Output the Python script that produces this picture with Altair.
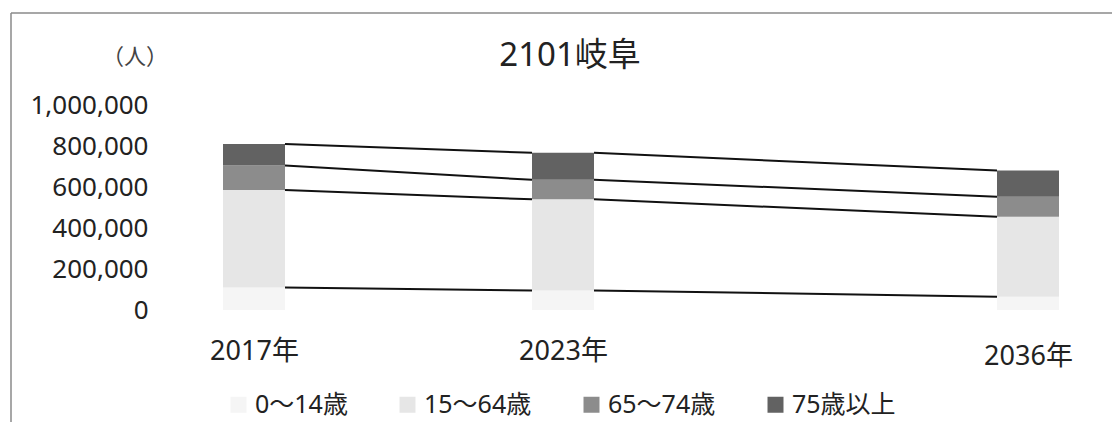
import altair as alt
import pandas as pd

# ---- data ----
years = [2017, 2023, 2036]
groups = ["0～14歳", "15～64歳", "65～74歳", "75歳以上"]
pop_0_14 = [110000, 95000, 65000]
pop_15_64 = [475000, 445000, 390000]
pop_65_74 = [120000, 95000, 98000]
pop_75_plus = [105000, 132000, 127000]
y_ticks = [0, 200000, 400000, 600000, 800000, 1000000]
colors = ["#f5f5f5", "#e6e6e6", "#8c8c8c", "#626262"]

FONT = "Noto Sans, Noto Sans CJK JP"

series = [pop_0_14, pop_15_64, pop_65_74, pop_75_plus]

# stacked segments
rows = []
for i, yr in enumerate(years):
    base = 0
    for g, vals in zip(groups, series):
        rows.append({"year": yr, "group": g, "v0": base, "v1": base + vals[i]})
        base += vals[i]
bars_df = pd.DataFrame(rows)

# series lines between consecutive bars (segment boundaries)
lines = []
for i in range(len(years) - 1):
    c0 = 0
    c1 = 0
    for vals in series:
        c0 += vals[i]
        c1 += vals[i + 1]
        lines.append({"year": years[i], "year2": years[i + 1], "v0": c0, "v1": c1})
lines_df = pd.DataFrame(lines)

one = pd.DataFrame({"a": [0]})

x_scale = alt.Scale(domain=years, range=[94, 403, 868], nice=False, zero=False, padding=0)
y_scale = alt.Scale(domain=[0, 1000000], nice=False, padding=0)

y_axis = alt.Axis(
    title=None, values=y_ticks, labelExpr="format(datum.value, ',d')",
    domain=False, ticks=False, grid=False,
    labelFont=FONT, labelFontSize=26, labelColor="#222222", labelPadding=12,
)
x_axis = alt.Axis(
    title=None, values=years, labelExpr="datum.value + '年'", domain=False,
    ticks=False, grid=False, labelFlush=False, labelOverlap=False,
    labelFont=FONT, labelFontSize=27, labelColor="#222222",
    labelPadding={"condition": {"test": "datum.value == 2036", "value": 33}, "value": 28},
)

# chart frame: top and left edges
frame_top = alt.Chart(one).mark_rule(color="#8a8a8a", strokeWidth=1.5).encode(
    x=alt.value(-149), x2=alt.value(990), y=alt.value(-92)
)
frame_left = alt.Chart(one).mark_rule(color="#8a8a8a", strokeWidth=1.5).encode(
    x=alt.value(-149), y=alt.value(-92), y2=alt.value(330)
)

bars = alt.Chart(bars_df).mark_bar(size=62).encode(
    x=alt.X("year:Q", scale=x_scale, axis=x_axis),
    y=alt.Y("v0:Q", scale=y_scale, axis=y_axis),
    y2="v1:Q",
    color=alt.Color(
        "group:N",
        scale=alt.Scale(domain=groups, range=colors),
        legend=alt.Legend(
            title=None, orient="none", legendX=66, legendY=287, direction="horizontal",
            symbolType="square", symbolSize=256, symbolStrokeWidth=0,
            labelFont=FONT, labelFontSize=25, labelColor="#222222",
            labelOffset=4, columnPadding=47, labelLimit=300,
        ),
    ),
)

rules = alt.Chart(lines_df).mark_rule(
    color="#111111", strokeWidth=2, xOffset=31, x2Offset=-31
).encode(
    x=alt.X("year:Q", scale=x_scale, axis=x_axis),
    x2="year2:Q",
    y=alt.Y("v0:Q", scale=y_scale, axis=y_axis),
    y2="v1:Q",
)

title = alt.Chart(one).mark_text(
    text="2101岐阜", font=FONT, fontSize=33, color="#222222", baseline="middle", align="center"
).encode(x=alt.value(410), y=alt.value(-49))

unit = alt.Chart(one).mark_text(
    text="（人）", font=FONT, fontSize=22, color="#444444", baseline="middle", align="center"
).encode(x=alt.value(-25), y=alt.value(-48))

chart = alt.layer(frame_top, frame_left, bars, rules, title, unit).properties(
    width=940,
    height=205,
    padding={"left": 152, "top": 97, "right": 12, "bottom": 112},
    autosize=alt.AutoSizeParams(type="none"),
    background="white",
).configure_view(stroke=None)

chart.save("out.html", embed_options={"renderer": "svg", "actions": False})
